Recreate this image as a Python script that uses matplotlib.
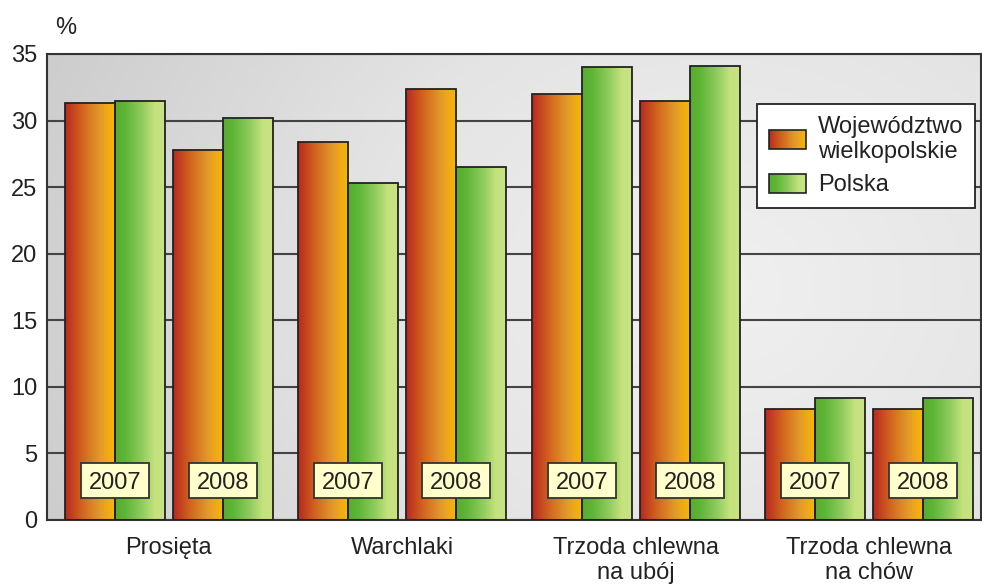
import numpy as np
import matplotlib
matplotlib.use("Agg")
import matplotlib.pyplot as plt
from matplotlib.colors import LinearSegmentedColormap
from matplotlib.patches import Rectangle
from matplotlib.legend_handler import HandlerBase

plt.rcParams['font.family'] = ['Liberation Sans', 'DejaVu Sans']

# ---- data ----
categories = ["Prosięta", "Warchlaki", "Trzoda chlewna\nna ubój", "Trzoda chlewna\nna chów"]
years = ["2007", "2008"]
wielkopolskie = [[31.3, 27.8], [28.4, 32.4], [32.0, 31.5], [8.3, 8.3]]
polska = [[31.5, 30.2], [25.3, 26.5], [34.0, 34.1], [9.2, 9.2]]
series_names = ["Województwo\nwielkopolskie", "Polska"]
yticks = [0, 5, 10, 15, 20, 25, 30, 35]

FS = 17

red_cmap = LinearSegmentedColormap.from_list(
    "red", [(0, "#B82820"), (0.35, "#D2651E"), (0.7, "#E39A2A"), (0.85, "#F0A818"), (1, "#F5B800")])
green_cmap = LinearSegmentedColormap.from_list(
    "green", [(0, "#58AC30"), (0.2, "#5DB535"), (0.55, "#92CC60"), (0.8, "#C5E27E"), (1, "#C8E383")])
bg_cmap = LinearSegmentedColormap.from_list("bg", ["#F0F0F0", "#E4E4E4", "#CDCDCD"])

fig = plt.figure(figsize=(9.82, 5.86), dpi=100)
ax = fig.add_axes([47 / 982, (586 - 520) / 586, (981 - 47) / 982, (520 - 54) / 586])

# background radial gradient
yy, xx = np.mgrid[0:1:200j, 0:1:300j]
r = np.sqrt(((xx - 0.72) * 1.0) ** 2 + ((yy - 0.5) * 0.6) ** 2)
ax.imshow(r / r.max(), extent=[0, 1, 0, 1], transform=ax.transAxes, cmap=bg_cmap,
          aspect='auto', zorder=0.1, origin='lower')

bar_w = 0.214
year_off = 0.231
grad = np.linspace(0, 1, 256).reshape(1, -1)

for i, cat in enumerate(categories):
    for j, yr in enumerate(years):
        pc = i + (j - 0.5) * year_off * 2
        for vals, cmap, side in ((wielkopolskie, red_cmap, -1), (polska, green_cmap, 1)):
            xc = pc + side * bar_w / 2
            b = ax.bar(xc, vals[i][j], bar_w, facecolor='none', edgecolor='#222222',
                       linewidth=1.3, zorder=3)[0]
            x0, x1 = b.get_x(), b.get_x() + b.get_width()
            im = ax.imshow(grad, extent=[x0, x1, 0, b.get_height()], cmap=cmap,
                           aspect='auto', zorder=2.5, origin='lower')
            im.set_clip_path(b)
        # year box
        bw, y0, y1 = 0.291, 1.65, 4.28
        ax.add_patch(Rectangle((pc - bw / 2, y0), bw, y1 - y0, facecolor='#FFFFCC',
                               edgecolor='#333333', linewidth=1.3, zorder=4))
        ax.text(pc, (y0 + y1) / 2, yr, ha='center', va='center_baseline', fontsize=FS,
                color='#222222', zorder=5)

ax.set_xlim(-0.522, 3.479)
ax.set_ylim(0, 35)
ax.set_yticks(yticks)
ax.set_xticks(range(len(categories)))
ax.set_xticklabels(categories, fontsize=FS, color='#222222', linespacing=1.2)
ax.tick_params(axis='y', length=0, pad=7, labelsize=FS, labelcolor='#222222')
ax.tick_params(axis='x', length=0, pad=12)
ax.set_axisbelow(True)
ax.yaxis.grid(True, color='#444444', linewidth=1.5)
for s in ax.spines.values():
    s.set_color('#333333')
    s.set_linewidth(1.5)

ax.text(0.009, 1.056, '%', transform=ax.transAxes, ha='left', va='center',
        fontsize=FS, color='#222222')


class GradientHandler(HandlerBase):
    def __init__(self, cmap):
        super().__init__()
        self.cmap = cmap

    def create_artists(self, legend, orig_handle, xdescent, ydescent, width, height,
                       fontsize, trans):
        arts = []
        n = 40
        for k in range(n):
            arts.append(Rectangle((-xdescent + width * k / n, -ydescent), width / n * 1.05, height,
                                  facecolor=self.cmap((k + 0.5) / n), edgecolor='none',
                                  transform=trans))
        arts.append(Rectangle((-xdescent, -ydescent), width, height, facecolor='none',
                              edgecolor='#222222', linewidth=1.2, transform=trans))
        return arts


h_red = Rectangle((0, 0), 1, 1)
h_green = Rectangle((0, 0), 1, 1)
leg = ax.legend([h_red, h_green], series_names, loc='upper left',
                bbox_to_anchor=(0.76, 0.893), borderaxespad=0, fontsize=FS,
                handlelength=1.6, handleheight=0.85, handletextpad=0.5,
                labelspacing=0.45, borderpad=0.5,
                fancybox=False, framealpha=1, edgecolor='#222222',
                handler_map={h_red: GradientHandler(red_cmap), h_green: GradientHandler(green_cmap)})
leg.get_frame().set_linewidth(1.3)
leg.set_zorder(6)
for t in leg.get_texts():
    t.set_color('#222222')
    t.set_linespacing(1.2)

fig.savefig("out.png", dpi=100)
